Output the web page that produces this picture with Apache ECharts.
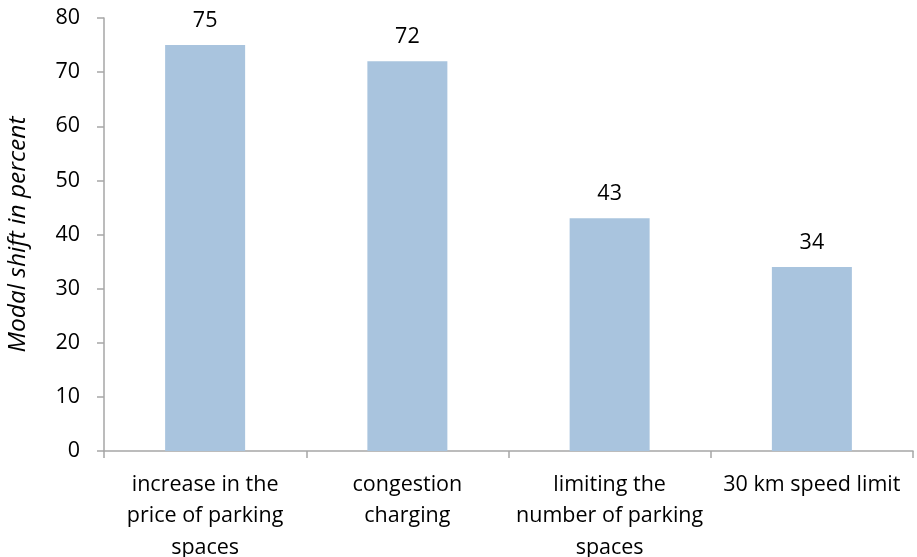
<!DOCTYPE html>
<html>
<head>
<meta charset="utf-8">
<script src="https://cdn.jsdelivr.net/npm/echarts@6/dist/echarts.min.js"></script>
<style>html,body{margin:0;padding:0;background:#fff}#c{width:917px;height:557px}</style>
</head>
<body>
<div id="c"></div>
<script>
const categories = [
  "increase in the\nprice of parking\nspaces",
  "congestion\ncharging",
  "limiting the\nnumber of parking\nspaces",
  "30 km speed limit"
];
const values = [75, 72, 43, 34];
const yAxisName = "Modal shift in percent";
const yMin = 0, yMax = 80, yInterval = 10;

const font = "'Open Sans', 'Liberation Sans', sans-serif";
const chart = echarts.init(document.getElementById('c'), null, {renderer: 'canvas'});
chart.setOption({
  animation: false,
  grid: {left: 104, right: 4, top: 18, bottom: 106, containLabel: false, outerBoundsMode: 'none'},
  xAxis: {
    type: 'category',
    data: categories,
    axisLine: {lineStyle: {color: '#A6A6A6', width: 1.5}},
    axisTick: {show: true, length: 7, lineStyle: {color: '#A6A6A6', width: 1.5}},
    axisLabel: {color: '#000', fontSize: 21.5, fontFamily: font, lineHeight: 31.5, margin: 18, interval: 0}
  },
  yAxis: {
    type: 'value',
    min: yMin, max: yMax, interval: yInterval,
    name: yAxisName,
    nameLocation: 'middle',
    nameGap: 73,
    nameTextStyle: {color: '#000', fontSize: 24.5, fontFamily: font, fontStyle: 'italic'},
    axisLine: {show: true, lineStyle: {color: '#A6A6A6', width: 1.5}},
    axisTick: {show: true, length: 7, lineStyle: {color: '#A6A6A6', width: 1.5}},
    splitLine: {show: false},
    axisLabel: {color: '#000', fontSize: 21.5, fontFamily: font, margin: 24}
  },
  series: [{
    type: 'bar',
    data: values,
    barWidth: 80,
    itemStyle: {color: '#A9C4DE'},
    label: {show: true, position: 'top', distance: 13, color: '#000', fontSize: 21.5, fontFamily: font}
  }]
});
</script>
</body>
</html>
